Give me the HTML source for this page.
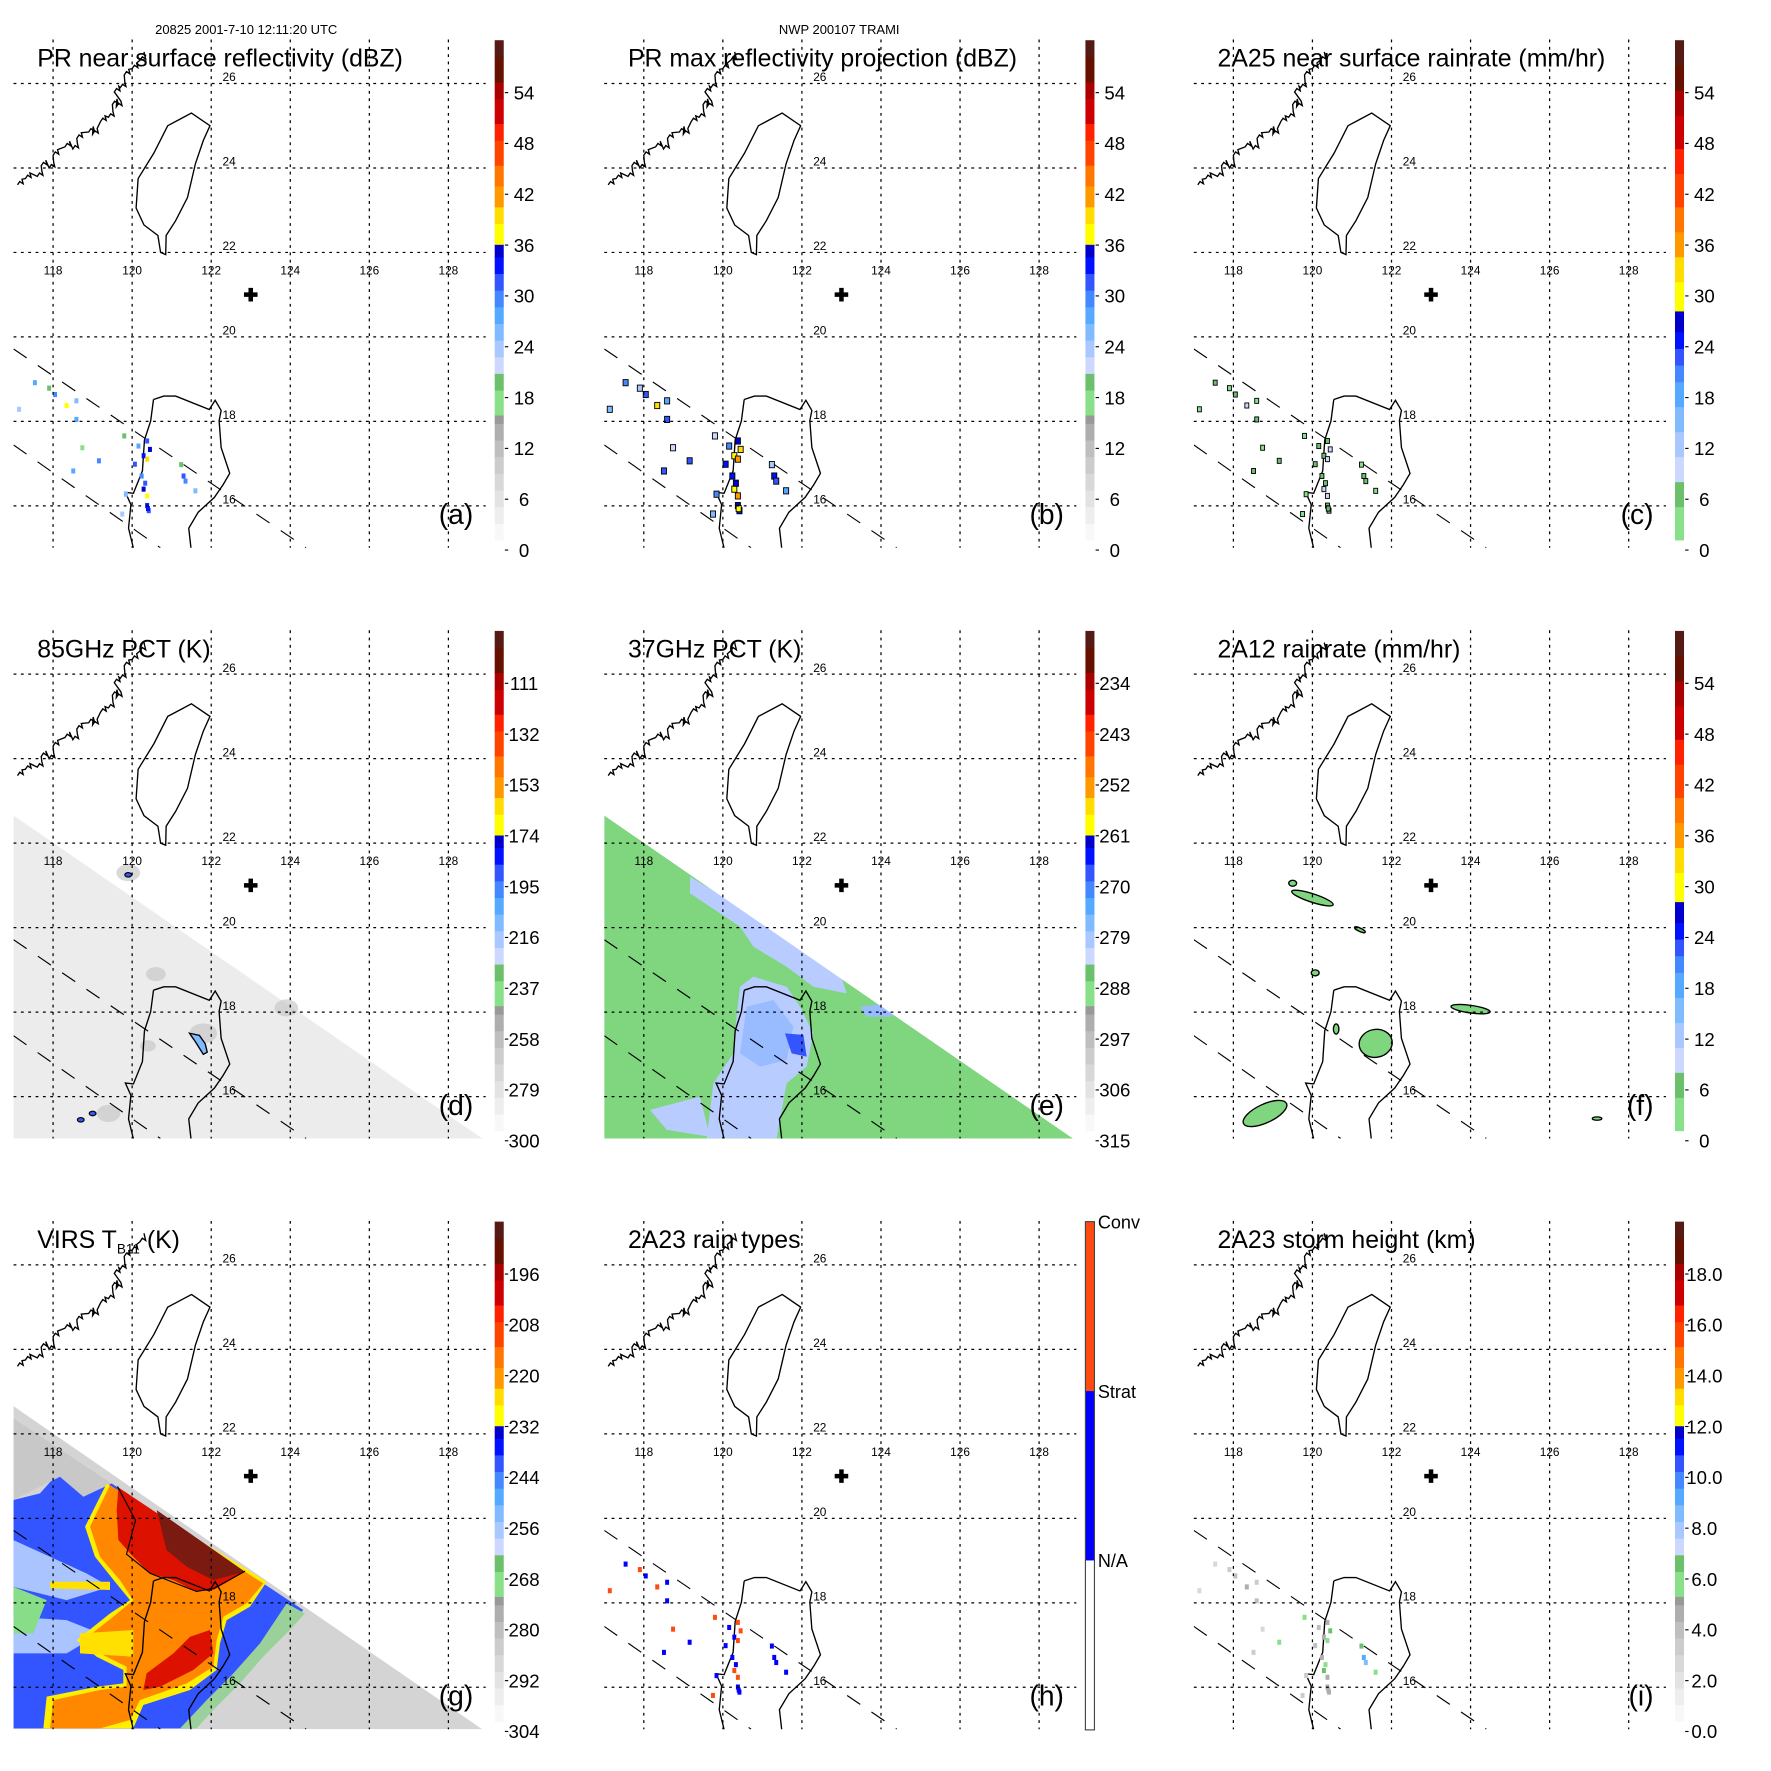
<!DOCTYPE html>
<html><head><meta charset="utf-8"><title>TRMM 20825 TRAMI</title>
<style>
html,body{margin:0;padding:0;background:#fff;}
svg{display:block;font-family:"Liberation Sans",Arial,sans-serif;}
</style></head>
<body>
<svg id="fig" xmlns="http://www.w3.org/2000/svg" width="1771" height="1771" viewBox="0 0 1568 1568">
<rect width="1568" height="1568" fill="#fff"/>
<text x="218" y="30" font-size="11.5" text-anchor="middle">20825 2001-7-10 12:11:20 UTC</text>
<text x="743" y="30" font-size="11.5" text-anchor="middle">NWP 200107 TRAMI</text>
</svg>
<script>
// ---------- data ----------
const lonTicks = [118,120,122,124,126,128];
const latTicks = [26,24,22,20,18,16];
const stormCenter = [123.0, 21.0];
const titles = ["PR near surface reflectivity (dBZ)","PR max reflectivity projection (dBZ)","2A25 near surface rainrate (mm/hr)","85GHz PCT (K)","37GHz PCT (K)","2A12 rainrate (mm/hr)","VIRS T","2A23 rain types","2A23 storm height (km)"];
const panelTags = ["(a)","(b)","(c)","(d)","(e)","(f)","(g)","(h)","(i)"];
const cbLabelsA = ["54","48","42","36","30","24","18","12","6","0"];
const cbLabelsD = ["111","132","153","174","195","216","237","258","279","300"];
const cbLabelsE = ["234","243","252","261","270","279","288","297","306","315"];
const cbLabelsG = ["196","208","220","232","244","256","268","280","292","304"];
const cbLabelsI = ["18.0","16.0","14.0","12.0","10.0","8.0","6.0","4.0","2.0","0.0"];
const paletteA = [[0,2,'#f8f8f8'],[2,4,'#eeeeee'],[4,6,'#e3e3e3'],[6,8,'#d8d8d8'],[8,10,'#cccccc'],[10,12,'#bfbfbf'],[12,14,'#aeaeae'],[14,15,'#999999'],[15,18,'#88e088'],[18,20,'#6cc06c'],[20,22,'#ccd8ff'],[22,24,'#a8c8ff'],[24,26,'#80bbff'],[26,28,'#55aaff'],[28,30,'#4488ff'],[30,32,'#3355ff'],[32,34,'#0011ff'],[34,35.5,'#0000cc'],[35.5,38,'#ffff00'],[38,40,'#ffdd00'],[40,42.5,'#ff9900'],[42.5,45,'#ff7700'],[45,48,'#ff4400'],[48,50,'#ff2200'],[50,53,'#cc0000'],[53,55,'#aa0000'],[55,58,'#661100'],[58,60,'#551a14']];
const paletteC = [[0,4,'#88e088'],[4,7,'#6cc06c'],[7,10,'#ccd8ff'],[10,13,'#a8c8ff'],[13,16,'#80bbff'],[16,19,'#55aaff'],[19,21,'#4488ff'],[21,23,'#3355ff'],[23,25,'#0011ff'],[25,27.5,'#0000cc'],[27.5,31,'#ffff00'],[31,34,'#ffdd00'],[34,37,'#ff9900'],[37,40,'#ff7700'],[40,44,'#ff4400'],[44,47,'#ff2200'],[47,51,'#cc0000'],[51,54,'#aa0000'],[54,57,'#661100'],[57,60,'#551a14']];
const prLon = [117.54,117.9,118.05,118.59,118.34,117.14,118.59,119.8,120.38,120.29,120.07,120.38,120.24,120.29,119.84,120.38,120.42,119.75,119.16,118.51,121.3,121.24,121.6,118.74,120.16,120.38,120.45,120.33,121.35,120.4];
const prLat = [18.93,18.8,18.65,18.5,18.39,18.3,18.06,17.67,17.55,17.2,17.0,17.12,16.72,16.41,16.29,16.02,15.9,15.82,17.08,16.84,16.72,16.99,16.37,17.39,17.43,16.25,17.35,16.55,16.6,15.95];
const prDbz = [26,19,28,24,36,22,27,18,31,33,30,38,29,34,25,32,30,22,28,27,30,19,24,17,26,37,35,31,28,33];
const prType = [0,1,0,0,1,1,0,1,1,0,0,1,0,1,0,0,0,1,0,0,0,0,0,1,0,1,1,0,0,0];
const prHeight = [2.5,3,3.5,3,4,2,3.5,5.5,4,4.5,3.5,5,4,6,3,4.5,4,3,5.5,3,9,6,5.5,2.5,3.5,4.5,6,5,8.5,4];
const rainLon = [120.0,124.0,121.6,118.8,120.07,127.2,119.5,121.2,120.6];
const rainLat = [20.7,18.07,17.26,15.6,18.93,15.48,21.05,19.95,17.6];
const rainRx = [0.55,0.5,0.42,0.6,0.1,0.12,0.1,0.15,0.07];
const rainRy = [0.1,0.09,0.33,0.22,0.07,0.04,0.07,0.04,0.12];
const rainTilt = [18,8,-10,-25,0,0,0,25,0];
const e37Polys = [
 {c:'#b8ccff',p:[[420,560],[460,530],[560,560],[600,620],[640,700],[620,800],[560,850],[530,1015],[320,1015],[340,850],[400,760],[410,650]]},
 {c:'#b8ccff',p:[[270,230],[420,320],[600,430],[720,520],[740,580],[640,560],[560,500],[460,440],[420,380],[330,320],[270,280]]},
 {c:'#99bbff',p:[[440,620],[520,600],[580,680],[560,780],[480,800],[420,760]]},
 {c:'#3355ff',p:[[555,700],[610,705],[620,770],[575,760]]},
 {c:'#b8ccff',p:[[150,930],[300,890],[330,1010],[200,990]]},
 {c:'#99bbff',p:[[780,620],[860,610],[880,650],[800,650]]}];
const virsPolys = [
 {c:'#3355ff',p:[[40,300],[120,280],[200,190],[335,250],[790,550],[910,630],[860,680],[780,760],[700,850],[620,930],[570,985],[40,985]]},
 {c:'#aac4ff',p:[[40,420],[150,470],[260,520],[330,560],[200,600],[40,560]]},
 {c:'#aac4ff',p:[[40,650],[200,660],[300,700],[200,760],[40,760]]},
 {c:'#88dd88',p:[[40,560],[140,600],[100,700],[40,700]]},
 {c:'#c8c8c8',p:[[40,55],[335,250],[250,290],[180,230],[120,260],[40,300]]},
 {c:'#9ad09a',p:[[860,610],[915,640],[870,690],[790,770],[720,850],[640,930],[590,985],[540,985],[620,900],[700,820],[780,730]]},
 {c:'#d4d4d4',p:[[915,640],[1395,985],[590,985],[640,930],[720,850],[790,770],[870,690]]},
 {c:'#ffee00',p:[[320,250],[800,545],[750,620],[680,660],[660,730],[650,810],[570,870],[430,915],[400,985],[130,985],[140,890],[290,860],[370,850],[370,810],[290,770],[230,720],[330,640],[390,600],[345,545],[285,470],[255,380]]},
 {c:'#ff8800',p:[[330,255],[790,550],[740,610],[670,650],[650,720],[640,800],[560,850],[420,900],[390,960],[300,985],[150,985],[160,900],[300,870],[380,860],[380,800],[300,760],[250,720],[340,650],[400,600],[360,540],[300,470],[270,380]]},
 {c:'#ffe000',p:[[150,545],[330,545],[330,570],[150,565]]},
 {c:'#ffe000',p:[[240,700],[400,690],[400,770],[240,760]]},
 {c:'#dd1100',p:[[355,262],[735,515],[640,570],[590,575],[520,540],[450,520],[390,460],[355,420],[350,330]]},
 {c:'#7a1a10',p:[[470,330],[735,515],[640,540],[560,500],[500,450]]},
 {c:'#dd1100',p:[[440,820],[520,760],[570,710],[630,690],[640,760],[580,810],[480,860],[430,870]]}];

// ---------- geometry ----------
const svg = document.getElementById('fig');
const NS = 'http://www.w3.org/2000/svg';
const colOff = [0,523,1045], rowOff = [0,523,1046];
const X = lon => 47 + (lon-118)*35;
const Y = lat => 73.9 + (26-lat)*37.4;
function mk(tag, attrs, parent){ const e=document.createElementNS(NS,tag); for(const k in attrs) e.setAttribute(k,attrs[k]); parent.appendChild(e); return e; }
function colorOf(pal,v){ for(const s of pal){ if(v>=s[0]&&v<s[1]) return s[2]; } return pal[pal.length-1][2]; }
const cbTop=35.6, cbBot=478;
const cbY = v => cbBot - v/60*(cbBot-cbTop);
const twLon=[121.5,121.97,121.8,121.6,121.4,121.1,120.86,120.85,120.72,120.65,120.3,120.1,120.15,120.55,120.9,121.2];
const twLat=[25.3,25.0,24.65,24.1,23.3,22.75,22.4,21.95,22.0,22.4,22.65,23.05,23.75,24.35,25.0,25.15];
const cnLon=[117.1,117.3,117.6,117.7,117.9,118.0,118.3,118.5,118.6,118.9,119.0,119.2,119.4,119.5,119.6,119.55,119.7,119.8,120.0,120.2,120.3];
const cnLat=[23.6,23.75,23.8,24.05,24.0,24.3,24.5,24.45,24.7,24.85,24.8,25.1,25.2,25.5,25.45,25.8,25.9,26.2,26.35,26.55,26.75];
const luLon=[120.54,120.8,121.1,121.95,122.1,122.25,122.2,122.25,122.47,122.3,122.08,121.67,121.43,121.49];
const luLat=[18.52,18.6,18.6,18.28,18.5,18.26,18.02,17.38,16.77,16.5,16.2,15.85,15.47,15.0];
const luWLon=[120.54,120.47,120.31,120.26,120.03,119.83,119.97,119.91,120.03];
const luWLat=[18.52,18.01,17.56,16.83,16.3,16.32,16.03,15.47,15.0];
function poly(lons,lats,close){ let d=''; lons.forEach((l,i)=>{ d+=(i?'L':'M')+X(l).toFixed(1)+' '+Y(lats[i]).toFixed(1); }); return d+(close?'Z':''); }
function jag(lons,lats){ let d=''; lons.forEach((l,i)=>{ const x=X(l),y=Y(lats[i]); d+=(i?'L':'M')+x.toFixed(1)+' '+y.toFixed(1); if(i<lons.length-1){ d+='l2 -3 l3 2 l-1 -4'; } }); return d; }

for(let p=0;p<9;p++){
  const r=Math.floor(p/3), c=p%3;
  const g=mk('g',{transform:`translate(${colOff[c]},${rowOff[r]})`},svg);
  
  
  const clipId='clip'+p;
  const cp=mk('clipPath',{id:clipId},g); mk('rect',{x:12,y:35,width:418,height:450},cp);
  const map=mk('g',{'clip-path':`url(#${clipId})`},g);
  
  
  if(p===3||p===4||p===6){
    const sw=mk('polygon',{points:'12,199 12,485 427,485',fill:p===3?'#ececec':p===4?'#7fd67f':'#d4d4d4'},map);
    
    
  }
  if(p===3){
    const dk=[[119.9,21.3,0.3],[120.6,18.9,0.25],[121.8,17.5,0.35],[123.9,18.1,0.3],[119.4,15.6,0.3],[120.4,17.2,0.2]];
    dk.forEach(d=>{ const e=mk('ellipse',{cx:X(d[0]),cy:Y(d[1]),rx:d[2]*35,ry:d[2]*25,fill:'#c9c9c9',opacity:0.7},map);   });
    const b=mk('path',{d:poly([121.45,121.7,121.85,121.9,121.8,121.6],[17.5,17.45,17.25,17.05,17.0,17.3],true),fill:'#80bbff',stroke:'#000','stroke-width':1.2},map);
     
    [[119.9,21.25],[119.0,15.6],[118.7,15.45]].forEach(q=>{ const e=mk('ellipse',{cx:X(q[0]),cy:Y(q[1]),rx:3,ry:2,fill:'#3355ff',stroke:'#000','stroke-width':1},map);   });
  }
  if(p===4||p===6){
    const polys = p===4?e37Polys:virsPolys;
    const ox = p===4?8.24:0, oy = p===4?185.3:193.6;
    polys.forEach(o=>{ const e=mk('polygon',{points:o.p.map(q=>(ox+q[0]*0.2951).toFixed(1)+','+(oy+q[1]*0.2951).toFixed(1)).join(' '),fill:o.c},map);   });
    if(p===6){ const e=mk('path',{d:'M104 270 L120 300 L112 330 L133 347 L174 363 L190 360 L217 345',fill:'none',stroke:'#000','stroke-width':1},map);   }
    const m=mk('polygon',{points:'12,35 430,35 430,485 427,485 12,199',fill:'#fff'},map);
     
  }
  latTicks.forEach(la=>{ const l=mk('line',{x1:12,x2:430,y1:Y(la),y2:Y(la),stroke:'#000','stroke-width':1.1,'stroke-dasharray':'2.5 4'},g);   });
  lonTicks.forEach(lo=>{ const l=mk('line',{x1:X(lo),x2:X(lo),y1:35,y2:485,stroke:'#000','stroke-width':1.1,'stroke-dasharray':'2.5 4'},g);   });
  [[poly(twLon,twLat,true),'taiwan-coastline'],[jag(cnLon,cnLat),'china-coastline'],[poly(luLon,luLat,false),'luzon-east-coastline'],[poly(luWLon,luWLat,false),'luzon-west-coastline']].forEach(q=>{ const e=mk('path',{d:q[0],fill:'none',stroke:'#000','stroke-width':1.2},map);   });
  [[12,309,271,485],[12,394,142,485]].forEach(s=>{ const e=mk('line',{x1:s[0],y1:s[1],x2:s[2],y2:s[3],stroke:'#000','stroke-width':1,'stroke-dasharray':'14 12'},map);   });
  if(p===0||p===1||p===2||p===7||p===8){
    prLon.forEach((lo,i)=>{
      let col, sz=3.5, stroke='none';
      if(p===0) col=colorOf(paletteA,prDbz[i]);
      else if(p===1){ col=colorOf(paletteA,prDbz[i]+3); sz=4.5; stroke='#000'; }
      else if(p===2){ col=colorOf(paletteC,Math.max(0,(prDbz[i]-16)*0.4)); sz=3.5; stroke='#000'; }
      else if(p===7) col=prType[i]?'#ff4a10':'#0000ff';
      else col=colorOf(paletteA,prHeight[i]*3);
      const e=mk('rect',{x:X(lo)-sz/2,y:Y(prLat[i])-sz/2,width:sz,height:sz+1,fill:col,stroke:stroke,'stroke-width':0.8},map);
       
    });
  }
  if(p===5){
    rainLon.forEach((lo,i)=>{ const e=mk('ellipse',{cx:X(lo),cy:Y(rainLat[i]),rx:rainRx[i]*35,ry:rainRy[i]*37.4,transform:`rotate(${rainTilt[i]} ${X(lo)} ${Y(rainLat[i])})`,fill:'#7fd67f',stroke:'#000','stroke-width':1.2},map);   });
  }
  lonTicks.forEach(lo=>{ const t=mk('text',{x:X(lo),y:243,'font-size':10.5,'text-anchor':'middle'},g); t.textContent=lo;   });
  latTicks.forEach(la=>{ const t=mk('text',{x:197,y:Y(la)-2,'font-size':10.5},g); t.textContent=la;   });
  const cx=X(stormCenter[0]), cy=Y(stormCenter[1]);
  const cr=mk('path',{d:`M${cx-6} ${cy}H${cx+6}M${cx} ${cy-6}V${cy+6}`,stroke:'#000','stroke-width':4},g);
   
  const tt=mk('text',{x:33,y:59,'font-size':22},g);
  tt.textContent=titles[p];
  if(p===6){ const ts=mk('tspan',{'font-size':12,dy:5},tt); ts.textContent='B11'; const t2=mk('tspan',{dy:-5},tt); t2.textContent=' (K)'; }
   
  const tg=mk('text',{x:419,y:464,'font-size':25,'text-anchor':'end'},g); tg.textContent=panelTags[p];
   
  const cb=mk('g',{},g);
   
  if(p===7){
    const bx=438;
    [[cbTop,'#ff4a10',150],[cbTop+150,'#0000ff',150],[cbTop+300,'#fff',150]].forEach(s=>{ mk('rect',{x:bx,y:s[0],width:8,height:s[2],fill:s[1]},cb); });
    mk('rect',{x:bx,y:cbTop,width:8,height:450,fill:'none',stroke:'#444','stroke-width':1},cb);
    [['Conv',cbTop],['Strat',cbTop+150],['N/A',cbTop+300]].forEach(s=>{ const t=mk('text',{x:bx+11,y:s[1]+6,'font-size':16},cb); t.textContent=s[0];   });
  } else {
    const pal=(p===2||p===5)?paletteC:paletteA;
    pal.forEach(s=>{ mk('rect',{x:438,y:cbY(s[1]),width:8,height:cbY(s[0])-cbY(s[1])+0.5,fill:s[2]},cb); });
    const labs=[cbLabelsA,cbLabelsA,cbLabelsA,cbLabelsD,cbLabelsE,cbLabelsA,cbLabelsG,null,cbLabelsI][p];
    labs.forEach((l,i)=>{ const y=82+45*i; const t=mk('text',{x:464,y:y+6,'font-size':16.5,'text-anchor':'middle'},cb); t.textContent=l;   mk('line',{x1:447,x2:450,y1:y,y2:y,stroke:'#000','stroke-width':1},cb); });
  }
}
</script>
</body></html>
